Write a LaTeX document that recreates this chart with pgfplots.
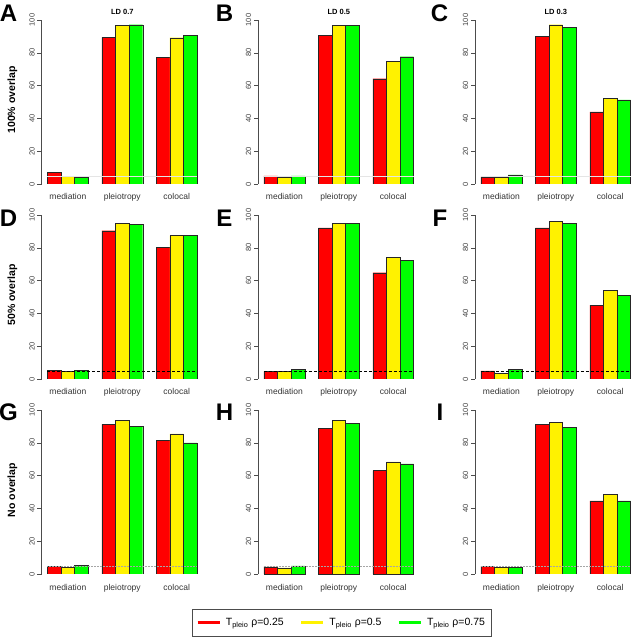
\documentclass[border=0pt]{standalone}
\usepackage{fontspec}
\setmainfont{Liberation Sans}
\usepackage{pgfplots}
\pgfplotsset{compat=1.18}
\usepackage{pgfplotstable}

\pgfplotstableread{
pos red yel grn
2.5 6.9 4.7 4.1
6.5 89.4 96.7 97.1
10.5 77.2 89.2 90.8
}\dataA
\pgfplotstableread{
pos red yel grn
2.5 4.9 3.9 4.9
6.5 90.6 96.9 96.9
10.5 64.2 74.9 77.6
}\dataB
\pgfplotstableread{
pos red yel grn
2.5 4.3 4.3 5.5
6.5 90.0 97.1 95.7
10.5 44.0 52.3 51.3
}\dataC
\pgfplotstableread{
pos red yel grn
2.5 5.3 4.5 5.3
6.5 90.4 94.7 94.5
10.5 80.2 87.4 87.4
}\dataD
\pgfplotstableread{
pos red yel grn
2.5 4.5 4.5 5.7
6.5 92.1 94.9 94.9
10.5 64.8 74.1 72.3
}\dataE
\pgfplotstableread{
pos red yel grn
2.5 4.9 3.5 5.7
6.5 92.1 96.3 95.1
10.5 45.0 54.2 50.9
}\dataF
\pgfplotstableread{
pos red yel grn
2.5 4.7 4.1 5.3
6.5 91.2 93.7 90.0
10.5 81.5 85.5 80.0
}\dataG
\pgfplotstableread{
pos red yel grn
2.5 4.3 3.7 4.9
6.5 89.0 93.7 91.9
10.5 63.1 68.4 67.2
}\dataH
\pgfplotstableread{
pos red yel grn
2.5 4.7 4.1 4.1
6.5 91.2 92.5 89.4
10.5 44.6 48.5 44.6
}\dataI

\pgfplotsset{
  panel/.style={
    scale only axis, width=161.6pt, height=164pt,
    xmin=0.56, xmax=12.44, ymin=0, ymax=100,
    axis y line*=left, axis x line*=bottom,
    x axis line style={draw=none},
    xtick={2.5,6.5,10.5}, xticklabels={mediation,pleiotropy,colocal},
    xtick style={draw=none},
    ytick={0,20,...,100},
    tick align=outside, major tick length=4pt,
    y axis line style={black!70, line width=0.5pt},
    ytick style={black!70, line width=0.5pt},
    /pgf/number format/assume math mode=true,
    yticklabel style={rotate=90, anchor=south, font=\fontsize{7.5}{8}\selectfont, text=black!75, inner sep=2.5pt},
    xticklabel style={anchor=base, yshift=-12pt, font=\fontsize{8.5}{10}\selectfont, text=black!80},
    anchor=south west,
    every axis title shift=0pt,
    title style={at={(0.5,1.049)}, anchor=center, font=\bfseries\fontsize{7.5}{9}\selectfont},
  },
  bars/.style={ybar, bar width=1, bar shift=0pt, draw=black!85, line width=0.4pt, fill=#1, forget plot},
}

\newcommand{\panelbars}[2]{%
  \addplot[bars=red] table[x expr=\thisrow{pos}-1, y=red] {#1};
  \addplot[bars=yellow] table[x expr=\thisrow{pos}, y=yel] {#1};
  \addplot[bars=green] table[x expr=\thisrow{pos}+1, y=grn] {#1};
  \addplot[#2, forget plot] coordinates {(1,5) (12,5)};
}

\begin{document}
\begin{tikzpicture}
\useasboundingbox (0pt,0pt) rectangle (633pt,637pt);

% Row 1
\begin{axis}[panel, at={(41.5pt,453pt)}, title={LD 0.7}]
\panelbars{\dataA}{black!10, line width=0.5pt}
\end{axis}
\begin{axis}[panel, at={(258pt,453pt)}, title={LD 0.5}]
\panelbars{\dataB}{black!10, line width=0.5pt}
\end{axis}
\begin{axis}[panel, at={(475pt,453pt)}, title={LD 0.3}]
\panelbars{\dataC}{black!10, line width=0.5pt}
\end{axis}

% Row 2
\begin{axis}[panel, at={(41.5pt,258pt)}]
\panelbars{\dataD}{black, densely dashed, line width=0.5pt}
\end{axis}
\begin{axis}[panel, at={(258pt,258pt)}]
\panelbars{\dataE}{black, densely dashed, line width=0.5pt}
\end{axis}
\begin{axis}[panel, at={(475pt,258pt)}]
\panelbars{\dataF}{black, densely dashed, line width=0.5pt}
\end{axis}

% Row 3
\begin{axis}[panel, at={(41.5pt,63pt)}]
\panelbars{\dataG}{black!35, densely dotted, line width=0.5pt}
\end{axis}
\begin{axis}[panel, at={(258pt,63pt)},
  legend columns=3,
  legend style={at={(axis description cs:-0.408,-0.2134)}, anchor=north west,
    draw=black!70, line width=0.5pt, font=\fontsize{10.5}{12}\selectfont,
    inner xsep=4pt, inner ysep=7pt,
    /tikz/every odd column/.append style={column sep=3pt},
    /tikz/every even column/.append style={column sep=14pt}},
  ]
\addlegendimage{legend image code/.code={\draw[red, line width=2.6pt] (0pt,0pt) -- (22pt,0pt);}}
\addlegendimage{legend image code/.code={\draw[yellow, line width=2.6pt] (0pt,0pt) -- (22pt,0pt);}}
\addlegendimage{legend image code/.code={\draw[green, line width=2.6pt] (0pt,0pt) -- (22pt,0pt);}}
\legend{T\textsubscript{pleio} ρ=0.25, T\textsubscript{pleio} ρ=0.5, T\textsubscript{pleio} ρ=0.75}
\panelbars{\dataH}{black!35, densely dotted, line width=0.5pt}
\end{axis}
\begin{axis}[panel, at={(475pt,63pt)}]
\panelbars{\dataI}{black!35, densely dotted, line width=0.5pt}
\end{axis}

% Panel letters
\begin{scope}[every node/.style={font=\bfseries\fontsize{24}{24}\selectfont, inner sep=0pt}]
\node at (8.5pt,623.5pt) {A};
\node at (224.5pt,624pt) {B};
\node at (439.5pt,624pt) {C};
\node at (8.5pt,419pt) {D};
\node at (224.5pt,419pt) {E};
\node at (440pt,419pt) {F};
\node at (8.5pt,225pt) {G};
\node at (224.5pt,225pt) {H};
\node at (440pt,225pt) {I};
\end{scope}

% Row labels
\begin{scope}[every node/.style={rotate=90, font=\bfseries\fontsize{10.5}{12}\selectfont, inner sep=0pt}]
\node at (12.5pt,537pt) {100\% overlap};
\node at (12.5pt,342pt) {50\% overlap};
\node at (12.5pt,147pt) {No overlap};
\end{scope}
\end{tikzpicture}
\end{document}
